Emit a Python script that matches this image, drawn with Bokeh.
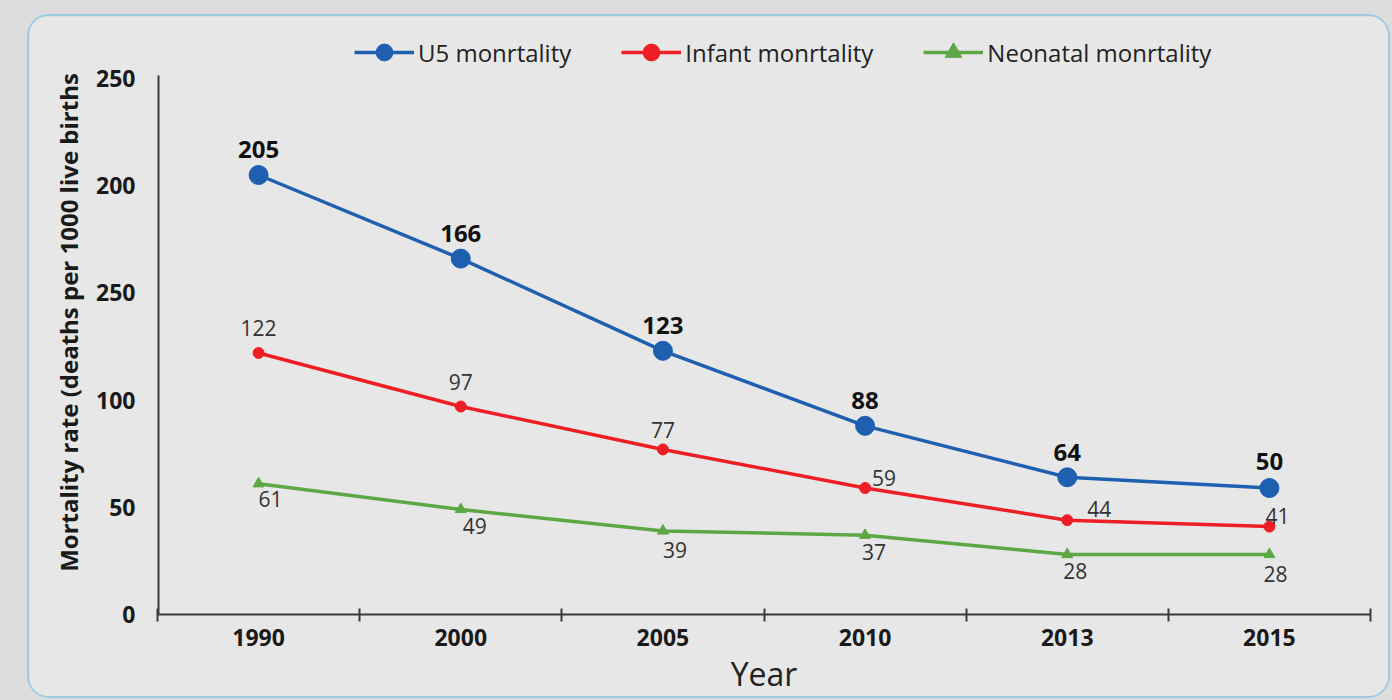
from bokeh.plotting import figure
from bokeh.models import ColumnDataSource, FixedTicker, Legend, LegendItem, Range1d
from bokeh.core.properties import value
from bokeh.layouts import column
from bokeh.embed import file_html
from bokeh.resources import INLINE

# ---- data ----
years = ["1990", "2000", "2005", "2010", "2013", "2015"]
u5_values = [205, 166, 123, 88, 64, 50]          # printed labels
u5_drawn_at = [205, 166, 123, 88, 64, 59]        # where the reference draws the points
infant_values = [122, 97, 77, 59, 44, 41]
neonatal_values = [61, 49, 39, 37, 28, 28]
y_tick_values = [0, 50, 100, 150, 200, 250]
y_tick_labels = ["0", "50", "100", "250", "200", "250"]
series_names = ["U5 monrtality", "Infant monrtality", "Neonatal monrtality"]

# ---- label placement (style, screen pixels) ----
u5_dx = [0, 0, 0, 0, 0, 0]
u5_dy = [-25, -25, -25, -25, -25, -27]
inf_dx = [0, 0, 0, 19, 32, 8]
inf_dy = [-25, -25, -19, -10, -11, -11]
neo_dx = [12, 14, 12, 9, 8, 6]
neo_dy = [15, 17, 19, 17, 17, 20]

FONT = "Open Sans"
BLUE = "#1f5fb0"
RED = "#ee1f24"
GREEN = "#5ca845"
PANEL = "#e7e7e7"
OUTER = "#dddddd"
AXIS = "#3a3a3a"

AXIS_TOP = 251.4      # where the drawn y axis line stops
Y_END = 272.4         # room above the axis for the legend

xs = [i + 0.5 for i in range(len(years))]

p = figure(width=1363, height=684, x_range=Range1d(0, len(years)), y_range=Range1d(0, Y_END),
           output_backend="svg", toolbar_location=None,
           min_border_left=128, min_border_right=22, min_border_top=14, min_border_bottom=86,
           background_fill_color=PANEL, border_fill_color=PANEL, outline_line_color=None,
           styles={"border": "2px solid #9dcbe0", "border-radius": "22px", "overflow": "hidden"})
p.margin = (14, 0, 0, 27)
p.xgrid.visible = False
p.ygrid.visible = False

# x axis
xa = p.xaxis[0]
xa.ticker = FixedTicker(ticks=xs, minor_ticks=list(range(len(years) + 1)))
xa.major_label_overrides = {x: y for x, y in zip(xs, years)}
xa.major_tick_line_color = None
xa.major_tick_in = 0
xa.major_tick_out = 0
xa.minor_tick_line_color = AXIS
xa.minor_tick_line_width = 2
xa.minor_tick_in = 6
xa.minor_tick_out = 7
xa.axis_line_color = AXIS
xa.axis_line_width = 2
xa.major_label_text_font = FONT
xa.major_label_text_font_style = "bold"
xa.major_label_text_font_size = "23px"
xa.major_label_text_color = "#1a1a1a"
xa.major_label_standoff = 7
xa.axis_label = "Year"
xa.axis_label_text_font = FONT
xa.axis_label_text_font_style = "normal"
xa.axis_label_text_font_size = "32px"
xa.axis_label_text_color = "#222222"
xa.axis_label_standoff = 3

# y axis (line drawn separately so it stops at the top tick)
ya = p.yaxis[0]
ya.ticker = FixedTicker(ticks=y_tick_values)
ya.major_label_overrides = {v: t for v, t in zip(y_tick_values, y_tick_labels)}
ya.major_tick_line_color = None
ya.major_tick_in = 0
ya.major_tick_out = 0
ya.minor_tick_line_color = None
ya.axis_line_color = None
ya.major_label_text_font = FONT
ya.major_label_text_font_style = "bold"
ya.major_label_text_font_size = "23px"
ya.major_label_text_color = "#1a1a1a"
ya.major_label_standoff = 22
ya.axis_label = "Mortality rate (deaths per 1000 live births"
ya.axis_label_text_font = FONT
ya.axis_label_text_font_style = "bold"
ya.axis_label_text_font_size = "24px"
ya.axis_label_text_color = "#1a1a1a"
ya.axis_label_standoff = 8

p.segment(x0=[0], y0=[0], x1=[0], y1=[AXIS_TOP], line_color=AXIS, line_width=4, line_cap="butt")

# series
src_u5 = ColumnDataSource(dict(x=xs, y=u5_drawn_at, label=[str(v) for v in u5_values], dx=u5_dx, dy=u5_dy))
src_inf = ColumnDataSource(dict(x=xs, y=infant_values, label=[str(v) for v in infant_values], dx=inf_dx, dy=inf_dy))
src_neo = ColumnDataSource(dict(x=xs, y=neonatal_values, label=[str(v) for v in neonatal_values], dx=neo_dx, dy=neo_dy))

l_neo = p.line("x", "y", source=src_neo, line_color=GREEN, line_width=3.5)
m_neo = p.scatter("x", "y", source=src_neo, marker="triangle", size=11, fill_color=GREEN, line_color=GREEN)
l_inf = p.line("x", "y", source=src_inf, line_color=RED, line_width=3.5)
m_inf = p.scatter("x", "y", source=src_inf, marker="circle", size=11, fill_color=RED, line_color=RED)
l_u5 = p.line("x", "y", source=src_u5, line_color=BLUE, line_width=3.5)
m_u5 = p.scatter("x", "y", source=src_u5, marker="circle", size=19, fill_color=BLUE, line_color=BLUE)

p.text("x", "y", text="label", source=src_u5, x_offset="dx", y_offset="dy",
       text_align="center", text_baseline="middle", text_font=value(FONT),
       text_font_style="bold", text_font_size="24px", text_color="#111111")
p.text("x", "y", text="label", source=src_inf, x_offset="dx", y_offset="dy",
       text_align="center", text_baseline="middle", text_font=value(FONT),
       text_font_size="21px", text_color="#333333")
p.text("x", "y", text="label", source=src_neo, x_offset="dx", y_offset="dy",
       text_align="center", text_baseline="middle", text_font=value(FONT),
       text_font_size="21px", text_color="#333333")

legend = Legend(items=[LegendItem(label=series_names[0], renderers=[l_u5, m_u5]),
                       LegendItem(label=series_names[1], renderers=[l_inf, m_inf]),
                       LegendItem(label=series_names[2], renderers=[l_neo, m_neo])],
                orientation="horizontal", location=(197, 541),
                glyph_width=60, glyph_height=42, label_standoff=4, spacing=50,
                padding=2, margin=0, border_line_color=None, background_fill_alpha=0,
                label_text_font=FONT, label_text_font_size="24px", label_text_color="#222222")
p.add_layout(legend, "center")

page = column(p, width=1392, height=700, styles={"background-color": OUTER})

open("out.html", "w").write(file_html(page, INLINE))
